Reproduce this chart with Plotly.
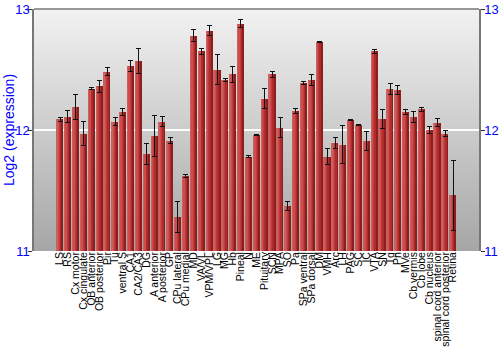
import plotly.graph_objects as go

categories = ["LS", "RS", "Cx motor", "Cx cingulate", "OB anterior", "OB posterior", "Pir", "Tu",
              "ventral S", "CA1", "CA2/CA3", "DG", "A anterior", "A posterior", "GP", "CPu lateral",
              "CPu medial", "MD", "VA/VL", "VPM/VPL", "LG", "MG", "Hb", "Pineal", "N", "ME",
              "Pituitary", "SCN", "MPA", "SO", "Pa", "SPa ventral", "SPa dorsal", "DM", "VMH", "Arc",
              "LH", "PAG", "SC", "IC", "VTA", "SN", "Tg", "Pn", "MVe", "Cb vermis", "Cb lobe",
              "Cb nucleus", "spinal cord anterior", "spinal cord posterior", "Retina"]

values = [12.09, 12.11, 12.19, 11.97, 12.34, 12.36, 12.48, 12.07,
          12.15, 12.53, 12.57, 11.80, 11.95, 12.07, 11.91, 11.28,
          11.62, 12.78, 12.65, 12.82, 12.50, 12.41, 12.46, 12.88, 11.78, 11.96,
          12.26, 12.46, 12.02, 11.37, 12.16, 12.39, 12.41, 12.73, 11.78, 11.89,
          11.88, 12.08, 12.04, 11.91, 12.65, 12.09, 12.34, 12.33, 12.15, 12.11, 12.17,
          12.00, 12.06, 11.97, 11.46]

errors = [0.016, 0.049, 0.10, 0.10, 0.008, 0.05, 0.033, 0.03,
          0.027, 0.045, 0.10, 0.086, 0.17, 0.045, 0.025, 0.13,
          0.016, 0.052, 0.023, 0.041, 0.12, 0.012, 0.066, 0.032, 0.008, 0.005,
          0.086, 0.025, 0.082, 0.037, 0.02, 0.012, 0.045, 0.005, 0.066, 0.044,
          0.156, 0.005, 0.005, 0.078, 0.019, 0.078, 0.048, 0.034, 0.019, 0.044, 0.016,
          0.027, 0.032, 0.022, 0.29]

y_ticks = [11, 12, 13]
y_title = "Log2 (expression)"

BLUE = "#0000ff"
W = 0.84
fig = go.Figure()

# layered bars to mimic a cylinder-like horizontal gradient
layers = [
    (W, -W / 2, "#8e1d1d"),
    (W * 0.72, -W / 2, "#ad2c2c"),
    (W * 0.5, -W / 2, "#c23a3a"),
    (W * 0.3, -W / 2 + W * 0.06, "#d04c4c"),
    (W * 0.06, -W / 2, "#c86262"),
]
for w, off, col in layers:
    fig.add_trace(go.Bar(x=categories, y=values, width=w, offset=off,
                         marker=dict(color=col, line=dict(width=0)),
                         hoverinfo="skip", showlegend=False))

# transparent bars carrying the error bars
fig.add_trace(go.Bar(x=categories, y=values, width=W,
                     marker=dict(color="rgba(0,0,0,0)", line=dict(width=0)),
                     error_y=dict(type="data", array=errors, visible=True,
                                  color="#111111", thickness=1, width=2.5),
                     showlegend=False))

# invisible trace on right axis
fig.add_trace(go.Scatter(x=categories, y=values, yaxis="y2", mode="markers",
                         marker=dict(opacity=0), hoverinfo="skip", showlegend=False))

svg = ("<svg xmlns='http://www.w3.org/2000/svg' width='100' height='100' preserveAspectRatio='none'>"
       "<defs><linearGradient id='g' x1='0' y1='0' x2='0' y2='1'>"
       "<stop offset='0' stop-color='%23f2f2f2'/><stop offset='1' stop-color='%23a6a6a6'/>"
       "</linearGradient></defs><rect width='100' height='100' fill='url(%23g)'/></svg>")

fig.update_layout(
    width=500, height=350,
    margin=dict(l=34, r=21, t=9, b=99, autoexpand=False),
    paper_bgcolor="white", plot_bgcolor="rgba(0,0,0,0)",
    barmode="overlay", bargap=0,
    font=dict(family="Liberation Sans, Arial, sans-serif", color="black"),
    images=[dict(source="data:image/svg+xml;utf8," + svg, xref="paper", yref="paper",
                 x=0, y=1, sizex=1, sizey=1, sizing="stretch", layer="below",
                 xanchor="left", yanchor="top")],
    xaxis=dict(type="category", tickangle=-90, tickfont=dict(size=10.5, color="black"),
               tickmode="array", tickvals=categories, ticktext=categories,
               automargin=False, ticklabelstandoff=-2,
               showline=False, ticks="", showgrid=False, ticklen=0),
    yaxis=dict(range=[11, 13], tickvals=y_ticks, ticktext=[str(t) for t in y_ticks],
               automargin=False, ticklabelstandoff=-4,
               tickfont=dict(size=13, color=BLUE), showline=True, linecolor="#777777",
               linewidth=1.5, ticks="outside", ticklen=4, tickcolor="#333333",
               showgrid=True, gridcolor="white", gridwidth=1.5, zeroline=False),
    yaxis2=dict(range=[11, 13], tickvals=y_ticks, ticktext=[str(t) for t in y_ticks],
                automargin=False, ticklabelstandoff=-3,
                overlaying="y", side="right", tickfont=dict(size=13, color=BLUE),
                showline=True, linecolor="#777777", linewidth=1.5, ticks="outside",
                ticklen=4, tickcolor="#333333", showgrid=False, zeroline=False),
    shapes=[dict(type="line", xref="paper", yref="paper", x0=0, x1=1, y0=1, y1=1,
                 line=dict(color="#777777", width=1.5))],
    annotations=[dict(text=y_title, xref="paper", yref="paper", x=0, y=0.5,
                      xshift=-25, xanchor="center", yanchor="middle", textangle=-90,
                      showarrow=False, font=dict(size=14, color=BLUE))],
)

fig.write_html("out.html")
